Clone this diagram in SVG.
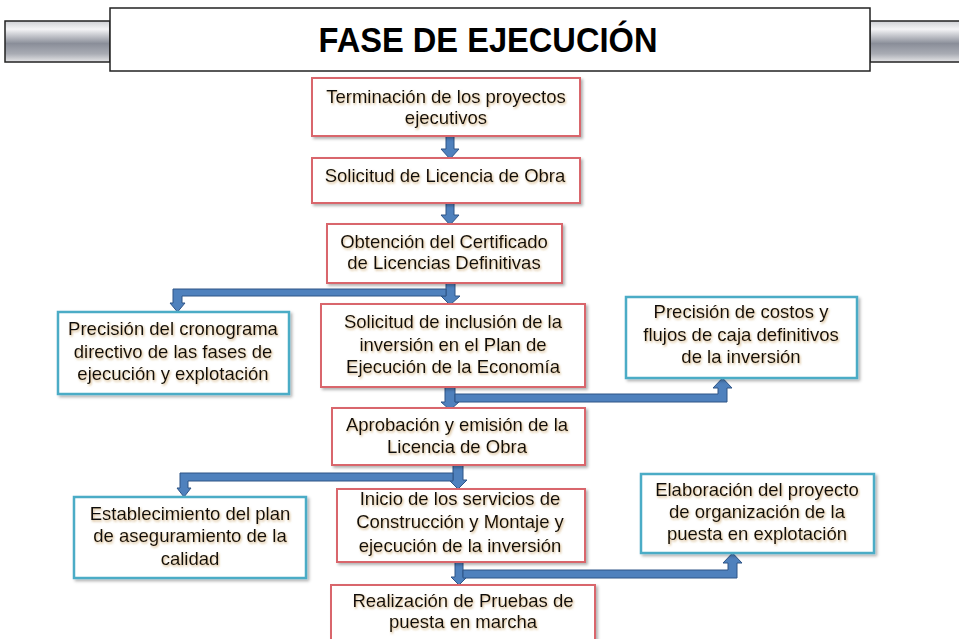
<svg xmlns="http://www.w3.org/2000/svg" width="959" height="639" viewBox="0 0 959 639">
<defs>
<linearGradient id="metal" x1="0" y1="0" x2="0" y2="1">
<stop offset="0" stop-color="#cfd0d4"/>
<stop offset="0.2" stop-color="#f4f4f6"/>
<stop offset="0.55" stop-color="#8a8e99"/>
<stop offset="0.8" stop-color="#a9acb4"/>
<stop offset="1" stop-color="#e6e6e8"/>
</linearGradient>
<filter id="sh" x="-10%" y="-10%" width="125%" height="130%">
<feDropShadow dx="2" dy="2" stdDeviation="1.5" flood-color="#000" flood-opacity="0.3"/>
</filter>
<filter id="tsh" x="-5%" y="-20%" width="110%" height="140%">
<feDropShadow dx="1" dy="1.5" stdDeviation="1" flood-color="#b07a2a" flood-opacity="0.55"/>
</filter>
</defs>
<style>
.r{fill:#fff;stroke:#d9666c;stroke-width:2}
.b{fill:#fff;stroke:#4bacc6;stroke-width:2.5}
.t{font-family:"Liberation Sans",Arial,sans-serif;font-size:18.5px;fill:#111;text-anchor:middle}
.a{fill:#4f81bd;stroke:#2f5486;stroke-width:1}
</style>

<g id="title">
<rect x="5" y="21" width="105" height="41" fill="url(#metal)" stroke="#222" stroke-width="1.5"/>
<rect x="870" y="21" width="95" height="41" fill="url(#metal)" stroke="#222" stroke-width="1.5"/>
<rect x="110" y="8" width="760" height="63" fill="#fff" stroke="#222" stroke-width="1.5"/>
<text x="488" y="52" font-family="'Liberation Sans',Arial,sans-serif" font-size="35" font-weight="bold" text-anchor="middle" textLength="339" lengthAdjust="spacingAndGlyphs" fill="#000">FASE DE EJECUCIÓN</text>
</g>

<g id="connectors">
<path class="a" d="M446,136 H454 V149 H459 L450,159 L441,149 H446 Z"/>
<path class="a" d="M446,203 H454 V215 H459 L450,225 L441,215 H446 Z"/>
<path class="a" d="M446,283 H455 V296 H460 L450,305 L441,296 H446 Z"/>
<path class="a" d="M446,289 V296 H182 V303 H185 L177.5,312 L170,303 H173 V289 Z"/>
<path class="a" d="M445,387 H455 V402 H459 L450,410 L441,402 H445 Z"/>
<path class="a" d="M455,394 H718 V388 H713 L722.5,378 L732,388 H727 V402 H455 Z"/>
<path class="a" d="M453,465 H463 V480 H467 L458,489 L449,480 H453 Z"/>
<path class="a" d="M453,473 V481 H188 V488 H191 L184,497 L177,488 H180 V473 Z"/>
<path class="a" d="M455,562 H463 V577 H467 L459,585 L451,577 H455 Z"/>
<path class="a" d="M463,570 H728 V563 H723 L732.5,553 L742,563 H737 V578 H463 Z"/>
</g>

<g id="n1">
<rect class="r" x="312" y="78" width="268" height="58" filter="url(#sh)"/>
<text class="t" filter="url(#tsh)"><tspan x="446" y="103">Terminación  de los proyectos</tspan><tspan x="446" y="124">ejecutivos</tspan></text>
</g>
<g id="n2">
<rect class="r" x="312" y="158" width="268" height="45" filter="url(#sh)"/>
<text class="t" filter="url(#tsh)" x="445" y="182">Solicitud de Licencia de Obra</text>
</g>
<g id="n3">
<rect class="r" x="327" y="224" width="235" height="59" filter="url(#sh)"/>
<text class="t" filter="url(#tsh)"><tspan x="444" y="248">Obtención del Certificado</tspan><tspan x="444" y="269">de Licencias Definitivas</tspan></text>
</g>
<g id="n4">
<rect class="b" x="58" y="312" width="231" height="82" filter="url(#sh)"/>
<text class="t" filter="url(#tsh)"><tspan x="173" y="335">Precisión del cronograma</tspan><tspan x="173" y="358">directivo de las  fases de</tspan><tspan x="173" y="380">ejecución y explotación</tspan></text>
</g>
<g id="n5">
<rect class="r" x="321" y="304" width="264" height="83" filter="url(#sh)"/>
<text class="t" filter="url(#tsh)"><tspan x="453" y="328">Solicitud de inclusión de la</tspan><tspan x="453" y="351">inversión en el Plan de</tspan><tspan x="453" y="373">Ejecución de la Economía</tspan></text>
</g>
<g id="n6">
<rect class="b" x="626" y="297" width="231" height="81" filter="url(#sh)"/>
<text class="t" filter="url(#tsh)"><tspan x="741" y="318">Precisión de costos y</tspan><tspan x="741" y="341">flujos de caja definitivos</tspan><tspan x="741" y="363">de la inversión</tspan></text>
</g>
<g id="n7">
<rect class="r" x="332" y="408" width="253" height="57" filter="url(#sh)"/>
<text class="t" filter="url(#tsh)"><tspan x="457" y="431">Aprobación  y emisión de la</tspan><tspan x="457" y="453">Licencia de Obra</tspan></text>
</g>
<g id="n8">
<rect class="b" x="74" y="497" width="232" height="81" filter="url(#sh)"/>
<text class="t" filter="url(#tsh)"><tspan x="190" y="520">Establecimiento del plan</tspan><tspan x="190" y="542">de aseguramiento de la</tspan><tspan x="190" y="565">calidad</tspan></text>
</g>
<g id="n9">
<rect class="r" x="337" y="489" width="248" height="73" filter="url(#sh)"/>
<text class="t" filter="url(#tsh)"><tspan x="460" y="505">Inicio de los servicios de</tspan><tspan x="460" y="528">Construcción y Montaje y</tspan><tspan x="460" y="552">ejecución de la inversión</tspan></text>
</g>
<g id="n10">
<rect class="b" x="641" y="474" width="233" height="79" filter="url(#sh)"/>
<text class="t" filter="url(#tsh)"><tspan x="757" y="496">Elaboración  del proyecto</tspan><tspan x="757" y="518">de organización  de la</tspan><tspan x="757" y="540">puesta en explotación</tspan></text>
</g>
<g id="n11">
<rect class="r" x="331" y="585" width="264" height="60" filter="url(#sh)"/>
<text class="t" filter="url(#tsh)"><tspan x="463" y="607">Realización  de Pruebas de</tspan><tspan x="463" y="628">puesta en marcha</tspan></text>
</g>
</svg>
